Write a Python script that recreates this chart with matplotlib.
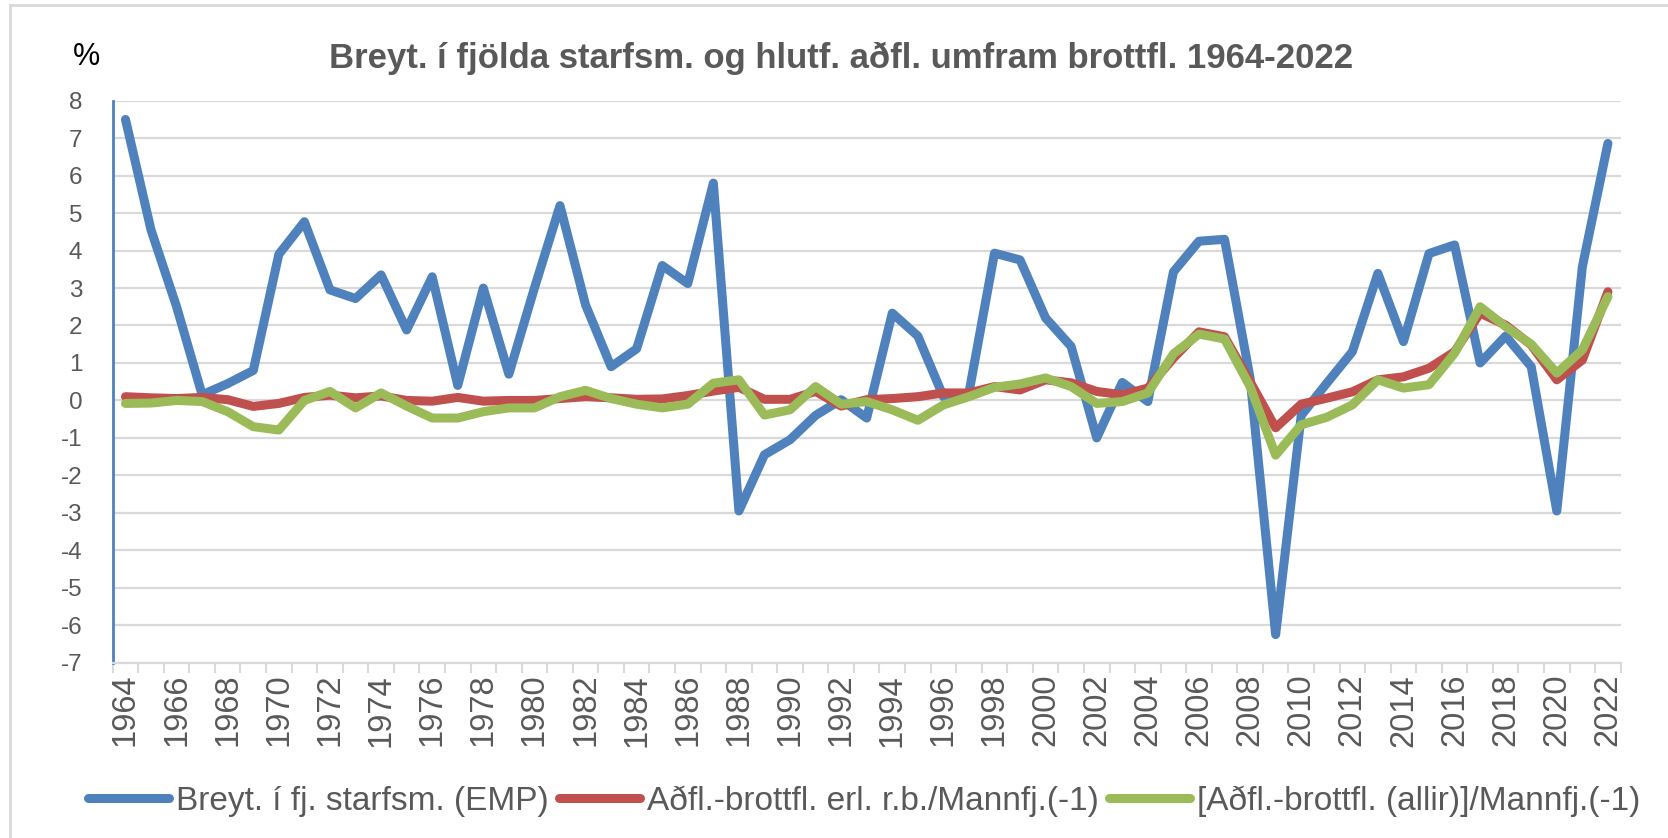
import matplotlib
matplotlib.use('Agg')
import matplotlib.pyplot as plt
from matplotlib.lines import Line2D

plt.rcParams['font.family'] = ['Liberation Sans', 'DejaVu Sans']
plt.rcParams['axes.unicode_minus'] = False

years = list(range(1964, 2023))

# Breyt. i fj. starfsm. (EMP)
emp = [7.5, 4.55, 2.5, 0.15, 0.45, 0.8, 3.9, 4.77, 2.95, 2.72,
       3.35, 1.88, 3.3, 0.4, 3.0, 0.7, 3.0, 5.2, 2.55, 0.9,
       1.38, 3.6, 3.12, 5.8, -2.95, -1.45, -1.05, -0.4, 0.02, -0.47,
       2.33, 1.72, 0.1, 0.2, 3.93, 3.75, 2.2, 1.44, -1.0, 0.48,
       -0.03, 3.43, 4.25, 4.3, 0.6, -6.25, -0.4, 0.46, 1.3, 3.39,
       1.57, 3.92, 4.15, 1.0, 1.72, 0.9, -2.95, 3.57, 6.86]

# erlendir rikisborgarar
erl = [0.1, 0.07, 0.05, 0.08, 0.02, -0.16, -0.08, 0.08, 0.14, 0.07,
       0.12, 0.0, -0.02, 0.08, -0.02, 0.0, 0.0, 0.05, 0.1, 0.07,
       0.03, 0.04, 0.13, 0.25, 0.35, 0.03, 0.03, 0.24, -0.15, 0.02,
       0.05, 0.1, 0.2, 0.2, 0.37, 0.28, 0.55, 0.47, 0.24, 0.15,
       0.33, 1.13, 1.83, 1.7, 0.5, -0.73, -0.1, 0.06, 0.23, 0.55,
       0.63, 0.86, 1.3, 2.33, 2.01, 1.48, 0.55, 1.08, 2.9]

# allir
allir = [-0.08, -0.07, 0.0, -0.03, -0.3, -0.7, -0.79, 0.0, 0.24, -0.2,
         0.2, -0.15, -0.47, -0.47, -0.3, -0.2, -0.2, 0.1, 0.27, 0.05,
         -0.1, -0.2, -0.1, 0.46, 0.55, -0.39, -0.25, 0.37, -0.1, -0.03,
         -0.25, -0.53, -0.12, 0.1, 0.35, 0.44, 0.6, 0.37, -0.08, -0.03,
         0.2, 1.24, 1.77, 1.64, 0.37, -1.46, -0.65, -0.45, -0.12, 0.55,
         0.33, 0.42, 1.26, 2.5, 1.97, 1.5, 0.73, 1.35, 2.77]

labels = ['Breyt. í fj. starfsm. (EMP)',
          'Aðfl.-brottfl. erl. r.b./Mannfj.(-1)',
          '[Aðfl.-brottfl. (allir)]/Mannfj.(-1)']
colors = ['#4F81BD', '#C0504D', '#9BBB59']
grid_c = '#D9D9D9'
txt_c = '#595959'

fig = plt.figure(figsize=(16.68, 8.38), dpi=100)
ax = fig.add_axes([112.7/1668, 1-662.7/838, (1620.7-112.7)/1668, (662.7-100.7)/838])

for y, lab, c in zip([emp, erl, allir], labels, colors):
    ax.plot(years, y, color=c, lw=6.5, label=lab,
            solid_joinstyle='round', solid_capstyle='round')

ax.set_xlim(1963.5, 2022.5)
ax.set_ylim(-7, 8)
ax.set_yticks(range(-7, 9))
ax.yaxis.grid(True, color=grid_c, lw=1.6, zorder=0)
ax.set_axisbelow(True)
ax.tick_params(axis='y', length=0, pad=22, labelsize=17.5, labelcolor=txt_c)

# tick marks between categories, labels on every other year
ax.set_xticks([y - 0.5 for y in years] + [2022.5])
ax.set_xticklabels([])
ax.tick_params(axis='x', which='major', length=7.5, width=1.5, color=grid_c)
ax.set_xticks(years[::2], minor=True)
ax.set_xticklabels([str(y) for y in years[::2]], minor=True, rotation=90)
ax.tick_params(axis='x', which='minor', length=0, pad=8, labelsize=23.5, labelcolor=txt_c)

for s in ['top', 'right']:
    ax.spines[s].set_visible(False)
ax.spines['bottom'].set_color(grid_c)
ax.spines['bottom'].set_linewidth(1.6)
ax.spines['left'].set_color('#4F81BD')
ax.spines['left'].set_linewidth(2)

fig.text(841/1668, 1-58/838, 'Breyt. í fjölda starfsm. og hlutf. aðfl. umfram brottfl. 1964-2022',
         ha='center', va='center', fontsize=25, fontweight='bold', color=txt_c)
fig.text(86/1668, 1-57/838, '%', ha='center', va='center', fontsize=22, color='black')

leg = fig.legend(loc='center', bbox_to_anchor=(864/1668, 1-801/838), ncol=3, frameon=False,
                 handlelength=2.45, handletextpad=0.2, columnspacing=0.3,
                 prop={'size': 24})
for t in leg.get_texts():
    t.set_color(txt_c)

# chart frame
fig.add_artist(Line2D([10/1668, 1], [1-5/838, 1-5/838], color=grid_c, lw=2))
fig.add_artist(Line2D([10/1668, 10/1668], [0, 1-5/838], color=grid_c, lw=2))

fig.savefig('out.png', dpi=100)
